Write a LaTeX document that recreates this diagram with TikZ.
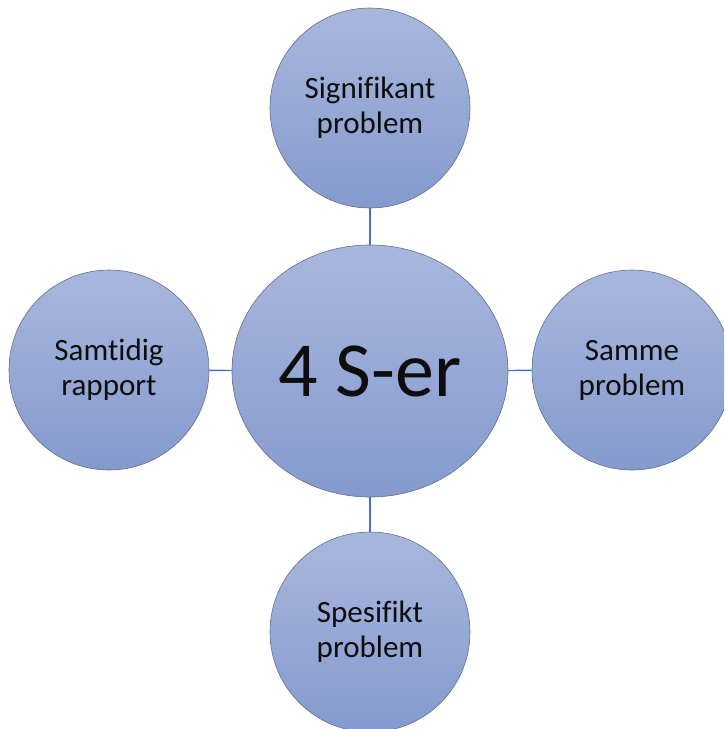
\documentclass[tikz,border=0pt]{standalone}
\usepackage{fontspec}
\setmainfont{Carlito}[Ligatures=NoCommon]
\usetikzlibrary{shapes.geometric,positioning}
\definecolor{bubbletop}{RGB}{168,183,221}
\definecolor{bubblebot}{RGB}{132,154,206}
\definecolor{bubbleedge}{RGB}{100,110,135}
\definecolor{linkblue}{RGB}{68,114,196}

\begin{document}
\begin{tikzpicture}[x=1pt,y=-1pt,
    bubble/.style={circle,draw=bubbleedge,line width=0.6pt,top color=bubbletop,
    bottom color=bubblebot,minimum size=200pt,inner sep=0pt,align=center,
    text=black!95,font=\fontsize{31}{35}\selectfont},
    hub/.style={bubble,ellipse,minimum width=276pt,minimum height=252pt,
    font=\fontsize{78}{80}\selectfont},
    link/.style={draw=linkblue,line width=1.4pt}]
    \useasboundingbox (0,0) rectangle (724,729);
    \clip (0,0) rectangle (724,729);
    % spokes first, so the bubbles sit on top
    \node[hub] (hub) at (370,371) {4 S-er};
    \foreach \name/\x/\y/\txt in {sig/370/108/{Signifikant\\problem},
        samme/632/370/{Samme\\problem},
        spes/370/632/{Spesifikt\\problem},
        samt/109/370/{Samtidig\\rapport}} {
        \node[bubble] (\name) at (\x,\y) {\txt};
        \draw[link] (hub) -- (\name);
    }
\end{tikzpicture}
\end{document}
